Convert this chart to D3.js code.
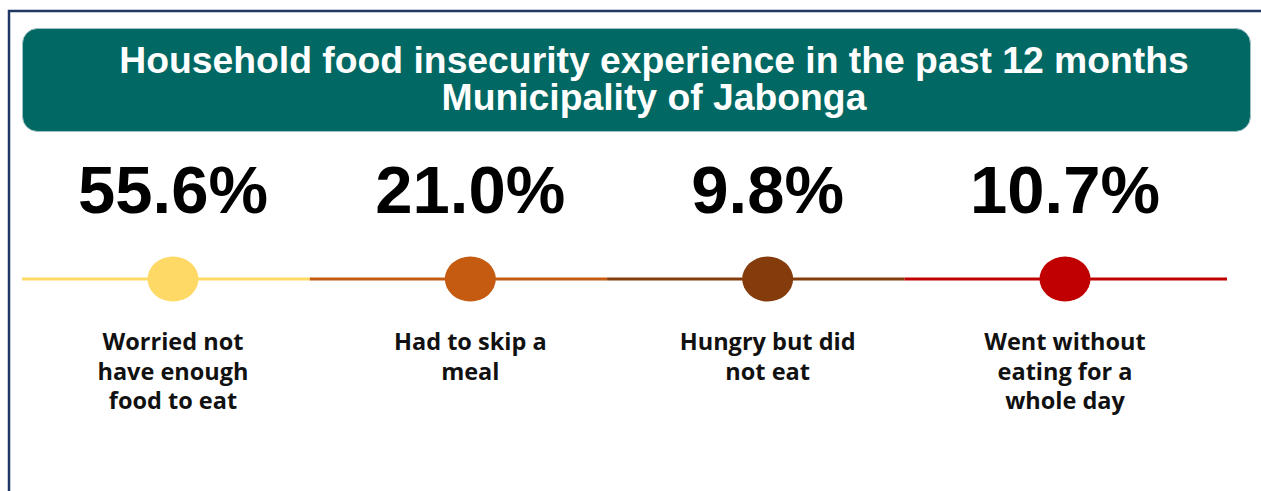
<!DOCTYPE html>
<html>
<head>
<meta charset="utf-8">
<script src="https://cdn.jsdelivr.net/npm/d3@7"></script>
<style>
  html, body { margin: 0; padding: 0; background: #fff; }
  svg { display: block; }
</style>
</head>
<body>
<div id="chart"></div>
<script>
const titleLines = ["Household food insecurity experience in the past 12 months", "Municipality of Jabonga"];
const categories = ["worried", "skip", "hungry", "noeat"];
const labelLines = [
    ["Worried not", "have enough", "food to eat"],
    ["Had to skip a", "meal"],
    ["Hungry but did", "not eat"],
    ["Went without", "eating for a", "whole day"]
];
const values = [55.6, 21.0, 9.8, 10.7];
const colors = ["#FFD966", "#C55A11", "#843C0C", "#C00000"];

const width = 1261;
const height = 491;

const svg = d3.select("#chart")
    .append("svg")
    .attr("width", width)
    .attr("height", height);

// outer frame (runs off the right and bottom edges)
svg.append("path")
    .attr("d", `M9,${height + 5} V11 H${width + 5}`)
    .attr("fill", "none")
    .attr("stroke", "#1F3864")
    .attr("stroke-width", 2.5);

// title banner
svg.append("rect")
    .attr("x", 22.5)
    .attr("y", 28.5)
    .attr("width", 1228)
    .attr("height", 103)
    .attr("rx", 15)
    .attr("fill", "#016863")
    .attr("stroke", "#9fc3c6")
    .attr("stroke-width", 1);

svg.append("g")
    .selectAll("text")
    .data(titleLines)
    .join("text")
    .attr("x", 654)
    .attr("y", (d, i) => 73 + i * 37)
    .attr("text-anchor", "middle")
    .attr("fill", "#fff")
    .attr("font-family", "Liberation Sans, Arial, sans-serif")
    .attr("font-weight", "bold")
    .attr("font-size", 37.3)
    .text(d => d);

const x = d3.scalePoint()
    .domain(categories)
    .range([173, 1065]);

const lineY = 279;
const lineStart = 22;
const lineEnd = 1227;
const step = x.step();
// colour changes a little before the midpoint between two dots
const cut = key => x(key) - step * 0.54;

const items = categories.map((c, i) => ({
    key: c,
    value: values[i],
    color: colors[i],
    lines: labelLines[i]
}));

// coloured timeline segments
svg.append("g")
    .selectAll("line")
    .data(items)
    .join("line")
    .attr("x1", (d, i) => i === 0 ? lineStart : cut(d.key))
    .attr("x2", (d, i) => i === items.length - 1 ? lineEnd : cut(categories[i + 1]))
    .attr("y1", lineY)
    .attr("y2", lineY)
    .attr("stroke", d => d.color)
    .attr("stroke-width", 3);

svg.append("g")
    .selectAll("ellipse")
    .data(items)
    .join("ellipse")
    .attr("cx", d => x(d.key))
    .attr("cy", lineY)
    .attr("rx", 25.5)
    .attr("ry", 22.5)
    .attr("fill", d => d.color);

const fmt = d3.format(".1f");

svg.append("g")
    .selectAll("text")
    .data(items)
    .join("text")
    .attr("x", d => x(d.key))
    .attr("y", 213)
    .attr("text-anchor", "middle")
    .attr("fill", "#000")
    .attr("font-family", "Liberation Sans, Arial, sans-serif")
    .attr("font-weight", "bold")
    .attr("font-size", 67)
    .text(d => fmt(d.value) + "%");

const labels = svg.append("g")
    .selectAll("text")
    .data(items)
    .join("text")
    .attr("text-anchor", "middle")
    .attr("fill", "#111")
    .attr("font-family", "Open Sans, sans-serif")
    .attr("font-weight", "bold")
    .attr("font-size", 23.5);

labels.selectAll("tspan")
    .data(d => d.lines.map(l => ({ text: l, cx: x(d.key) })))
    .join("tspan")
    .attr("x", d => d.cx)
    .attr("y", (d, i) => 350 + i * 29.5)
    .text(d => d.text);
</script>
</body>
</html>
